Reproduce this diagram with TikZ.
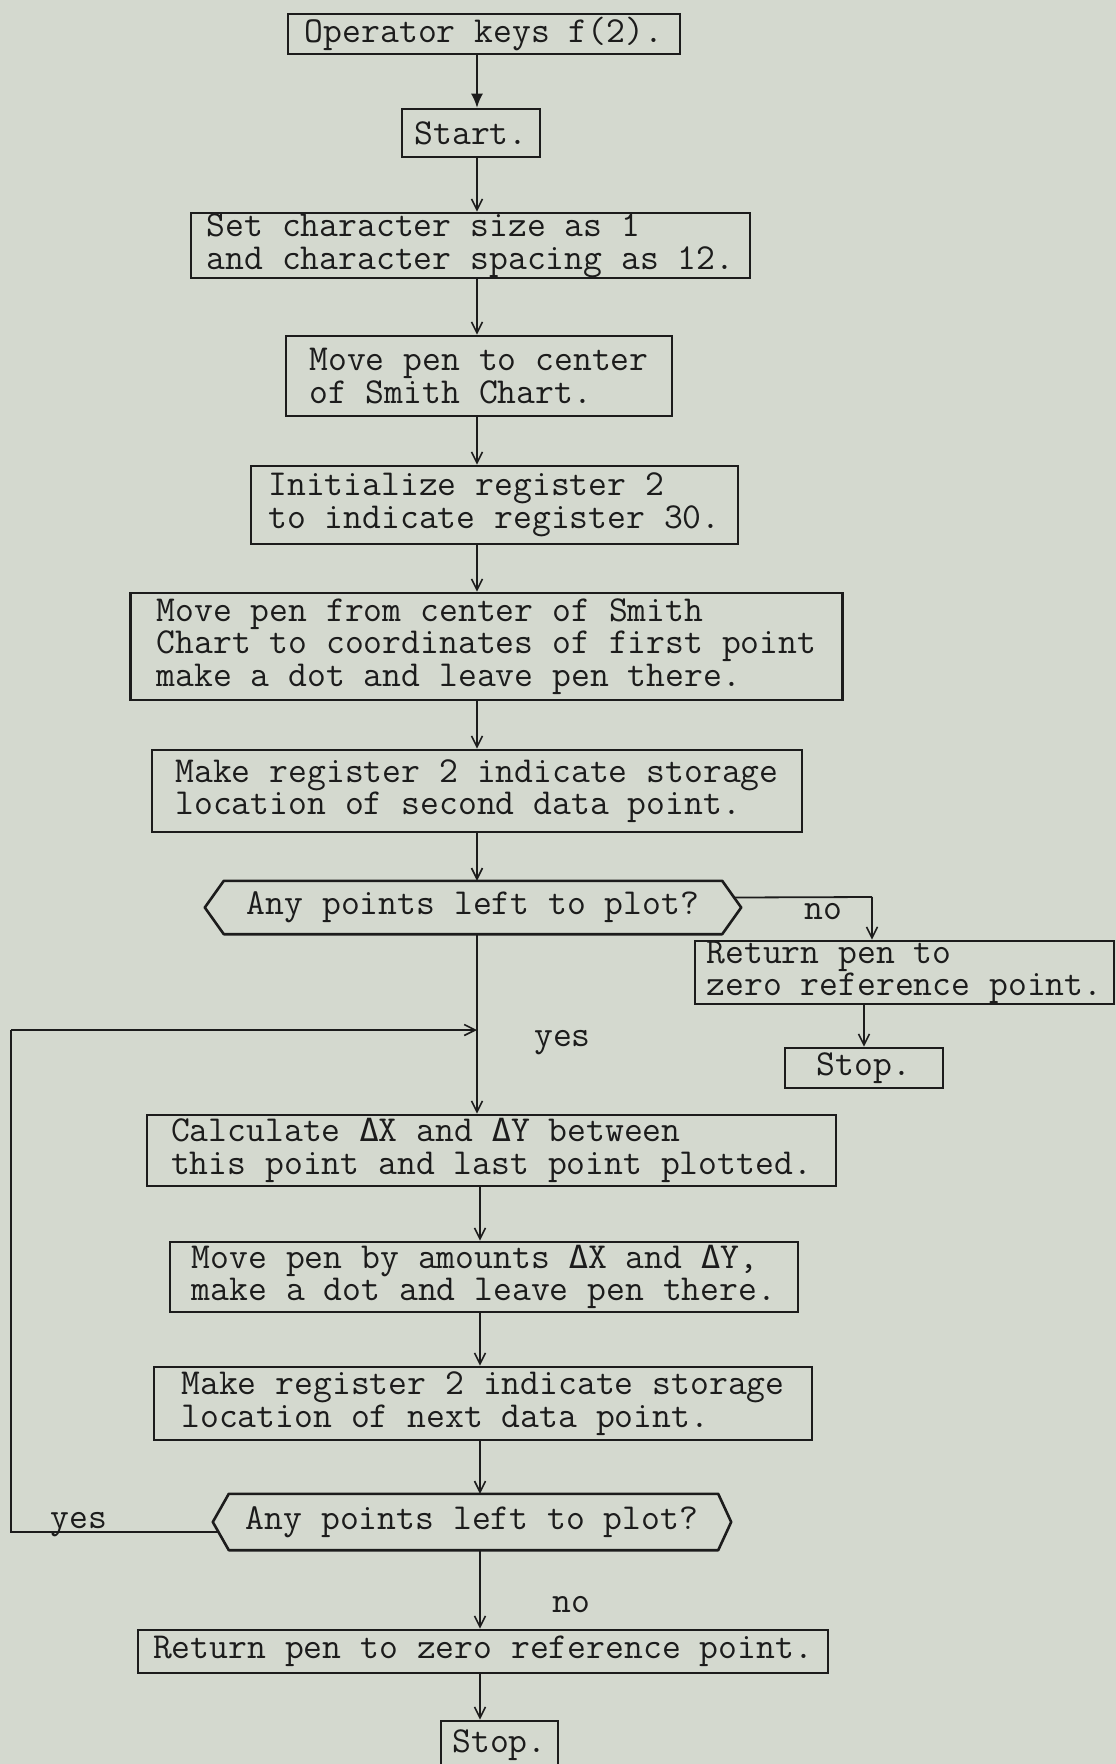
\documentclass[tikz,border=0pt]{standalone}
\usepackage{fontspec}
\usetikzlibrary{arrows.meta}
% DejaVu Sans Mono supplies the Greek capital, scaled to the typewriter pitch
\newfontfamily\dmono{DejaVu Sans Mono}[Scale=0.872]
\newcommand\dlt{{\dmono Δ}}
\definecolor{paper}{RGB}{212,217,207}
\definecolor{ink}{RGB}{28,28,28}
\begin{document}
\begin{tikzpicture}[x=1pt,y=-1pt,
  font=\fontsize{36.6}{32.6}\selectfont\ttfamily,
  box/.style={draw=ink, line width=2.6pt, align=left, inner sep=0pt, text=ink},
  decision/.style={inner sep=0pt, text=ink},
  hexline/.style={draw=ink, line width=2.6pt, line join=round},
  flow/.style={draw=ink, line width=1.8pt,
    -{Straight Barb[length=11pt,width=11pt,line width=1.6pt]}},
  firstflow/.style={draw=ink, line width=1.8pt,
    -{Latex[length=14pt,width=12pt]}},
  link/.style={draw=ink, line width=1.8pt},
  lbl/.style={text=ink, inner sep=0pt}]
\fill[paper] (0,0) rectangle (1116,1764);
\useasboundingbox (0,0) rectangle (1116,1764);

% spine of the main flow
\coordinate (sp) at (477,0);
\coordinate (sq) at (480,0);

% ---- process boxes ----
\node[box, minimum width=392pt, minimum height=40pt] (op) at (484,34) {Operator keys f(2).};
\node[box, minimum width=138pt, minimum height=48pt] (start) at (471,133) {Start.};
\node[box, minimum width=559pt, minimum height=65pt] (setc) at (470.5,245.5)
  {Set character size as 1\\and character spacing as 12.};
\node[box, minimum width=386pt, minimum height=80pt] (movec) at (479,376)
  {Move pen to center\\of Smith Chart.};
\node[box, minimum width=487pt, minimum height=78pt] (init) at (494.5,505)
  {Initialize register 2\\to indicate register 30.};
\node[box, minimum width=712pt, minimum height=107pt] (movefrom) at (486.5,646.5)
  {Move pen from center of Smith\\Chart to coordinates of first point\\make a dot and leave pen there.};
\node[box, minimum width=650pt, minimum height=82pt] (reg2) at (477,791)
  {Make register 2 indicate storage\\location of second data point.};

% ---- first decision ----
\node[decision, minimum width=536pt, minimum height=53pt] (dec1) at (473,907.5)
  {Any points left to plot?};
\draw[hexline] (dec1.west) -- ([xshift=19pt]dec1.north west) -- ([xshift=-19pt]dec1.north east)
  -- (dec1.east) -- ([xshift=-19pt]dec1.south east) -- ([xshift=19pt]dec1.south west) -- cycle;

\node[box, minimum width=419pt, minimum height=59pt] (ret1) at (904.5,972.5)
  {Return pen to\\zero reference point.};
\node[box, minimum width=158pt, minimum height=40pt] (stop1) at (864,1068) {Stop.};

% ---- loop body ----
\node[box, minimum width=689pt, minimum height=71pt] (calc) at (491.5,1150.5)
  {Calculate \dlt X and \dlt Y between\\this point and last point plotted.};
\node[box, minimum width=628pt, minimum height=70pt] (moveby) at (484,1277)
  {Move pen by amounts \dlt X and \dlt Y,\\make a dot and leave pen there.};
\node[box, minimum width=658pt, minimum height=73pt] (regnext) at (483,1403.5)
  {Make register 2 indicate storage\\location of next data point.};

% ---- second decision ----
\node[decision, minimum width=518pt, minimum height=56pt] (dec2) at (472,1522)
  {Any points left to plot?};
\draw[hexline] (dec2.west) -- ([xshift=16pt]dec2.north west) -- ([xshift=-13pt]dec2.north east)
  -- (dec2.east) -- ([xshift=-13pt]dec2.south east) -- ([xshift=16pt]dec2.south west) -- cycle;

\node[box, minimum width=690pt, minimum height=43pt] (ret2) at (483,1651.5)
  {Return pen to zero reference point.};
\node[box, minimum width=117pt, minimum height=48pt] (stop2) at (499.5,1745) {Stop.};

% ---- branch labels ----
\node[lbl] (no1) at (823.5,912) {no};
\node[lbl] (yes1) at (562.5,1043) {yes};
\node[lbl] (yes2) at (79,1525) {yes};
\node[lbl] (no2) at (571.5,1605) {no};

% ---- connectors ----
\draw[firstflow] (op.south -| sp) -- (start.north -| sp);
\draw[flow] (start.south -| sp) -- (setc.north -| sp);
\draw[flow] (setc.south -| sp) -- (movec.north -| sp);
\draw[flow] (movec.south -| sp) -- (init.north -| sp);
\draw[flow] (init.south -| sp) -- (movefrom.north -| sp);
\draw[flow] (movefrom.south -| sp) -- (reg2.north -| sp);
\draw[flow] (reg2.south -| sp) -- (dec1.north -| sp);

\coordinate (nocorner) at (872,897);
\draw[link] ([xshift=-7pt,yshift=10pt]dec1.east) -- (nocorner);
\draw[flow] (nocorner) -- (ret1.north -| nocorner);
\draw[flow] (ret1.south -| stop1) -- (stop1.north);

\draw[flow] (dec1.south -| sp) -- (calc.north -| sp);
\draw[flow] (calc.south -| sq) -- (moveby.north -| sq);
\draw[flow] (moveby.south -| sq) -- (regnext.north -| sq);
\draw[flow] (regnext.south -| sq) -- (dec2.north -| sq);
\draw[flow] (dec2.south -| sq) -- (ret2.north -| sq);
\draw[flow] (ret2.south -| sq) -- (stop2.north -| sq);

% loop back from the second decision
\coordinate (fbL) at (11,1532);
\coordinate (fbT) at (11,1030);
\draw[link] ([xshift=6pt,yshift=-10pt]dec2.west) -- (fbL) -- (fbT);
\draw[flow] (fbT) -- (fbT -| sp);
\end{tikzpicture}
\end{document}
